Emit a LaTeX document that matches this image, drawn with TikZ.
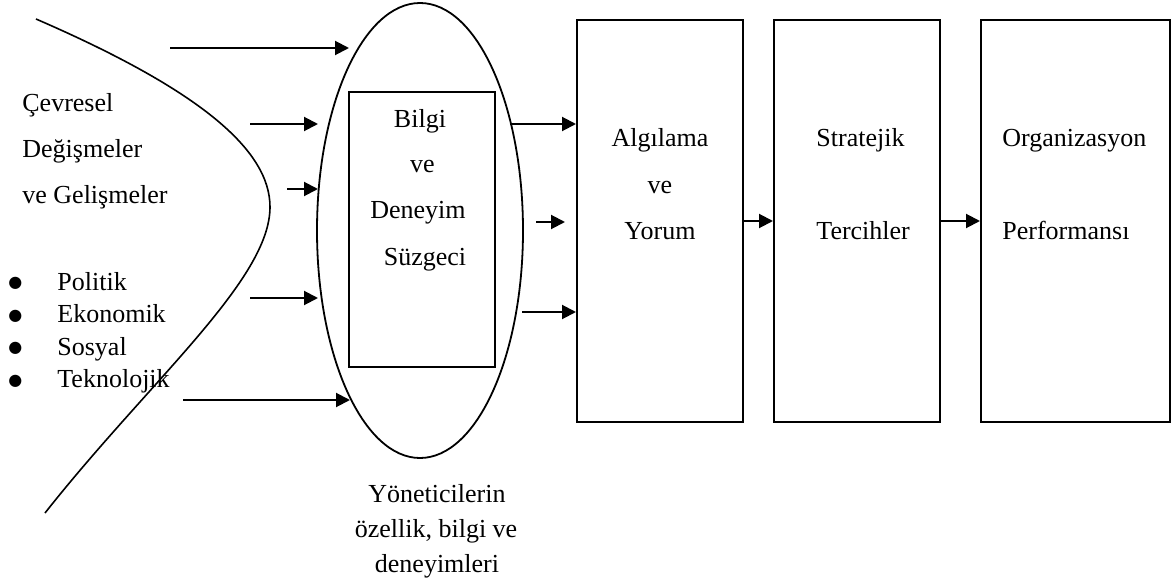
\documentclass[tikz,border=0pt]{standalone}
\usepackage{fontspec}
\setmainfont{Liberation Serif}
\newfontfamily\djvfont{DejaVu Sans}
\usetikzlibrary{shapes.geometric,arrows.meta}
\newcommand{\bigbul}{\makebox[24.5pt][l]{\raisebox{1.2pt}{\djvfont\fontsize{8}{9}\selectfont ●}}}
\begin{document}
\begin{tikzpicture}[x=0.5pt,y=-0.5pt,
  txt/.style={inner sep=0pt,font=\fontsize{13}{15}\selectfont},
  boxnode/.style={draw,line width=1pt,inner sep=0pt},
  arr/.style={line width=1pt,-{Triangle[length=7pt,width=7pt]}},
  curveline/.style={line width=0.8pt}]
\useasboundingbox (0,0) rectangle (1173,583);

% environmental curve
\draw[curveline] (36,19) .. controls (200,90) and (270,150) .. (270,207)
  .. controls (270,280) and (150,380) .. (45,513);

% left texts
\node[txt,anchor=base west] (cev1) at (22,112) {Çevresel};
\node[txt,anchor=base west] (cev2) at (22,158) {Değişmeler};
\node[txt,anchor=base west] (cev3) at (22,204) {ve Gelişmeler};

\node[txt,anchor=base west] (it1) at (8,290) {\bigbul Politik};
\node[txt,anchor=base west] (it2) at (8,322.5) {\bigbul Ekonomik};
\node[txt,anchor=base west] (it3) at (8,355) {\bigbul Sosyal};
\node[txt,anchor=base west] (it4) at (8,387.5) {\bigbul Teknolojik};

% ellipse and filter box
\node[draw,ellipse,line width=0.9pt,minimum width=103pt,minimum height=227.5pt,inner sep=0pt] (ell) at (420,230.5) {};
\node[boxnode,minimum width=73pt,minimum height=137.5pt] (filt) at (422,229.5) {};
\node[txt,anchor=base] (f1) at (420,127) {Bilgi};
\node[txt,anchor=base] (f2) at (422.5,173) {ve};
\node[txt,anchor=base] (f3) at (418,218) {Deneyim};
\node[txt,anchor=base] (f4) at (425,265) {Süzgeci};

\node[txt,anchor=base] (y1) at (437,502) {Yöneticilerin};
\node[txt,anchor=base] (y2) at (436,537) {özellik, bilgi ve};
\node[txt,anchor=base] (y3) at (437,572) {deneyimleri};

% boxes
\node[boxnode,minimum width=83pt,minimum height=201pt] (box1) at (660,221) {};
\node[boxnode,minimum width=83pt,minimum height=201pt] (box2) at (857,221) {};
\node[boxnode,minimum width=94.5pt,minimum height=201pt] (box3) at (1075.5,221) {};

\node[txt,anchor=base] (b1a) at (660,147) {Algılama};
\node[txt,anchor=base] (b1b) at (660,193) {ve};
\node[txt,anchor=base] (b1c) at (660,239) {Yorum};
\node[txt,anchor=base west] (b2a) at (816,147) {Stratejik};
\node[txt,anchor=base west] (b2b) at (816,239) {Tercihler};
\node[txt,anchor=base west] (b3a) at (1002,147) {Organizasyon};
\node[txt,anchor=base west] (b3b) at (1002,239) {Performansı};

% arrow end points
\coordinate (a1t) at (170,48);  \coordinate (a1h) at (349,48);
\coordinate (a2t) at (250,124); \coordinate (a2h) at (318,124);
\coordinate (a3t) at (287,189); \coordinate (a3h) at (318,189);
\coordinate (a4t) at (250,298); \coordinate (a4h) at (318,298);
\coordinate (a5t) at (183,400); \coordinate (a5h) at (350,400);
\coordinate (r1t) at (510,124);
\coordinate (r2t) at (536,222); \coordinate (r2h) at (565,222);
\coordinate (r3t) at (522,312);

\draw[arr] (a1t) -- (a1h);
\draw[arr] (a2t) -- (a2h);
\draw[arr] (a3t) -- (a3h);
\draw[arr] (a4t) -- (a4h);
\draw[arr] (a5t) -- (a5h);
\draw[arr] (r1t) -- (r1t -| box1.west);
\draw[arr] (r2t) -- (r2h);
\draw[arr] (r3t) -- (r3t -| box1.west);
\draw[arr] (box1.east) -- (box2.west);
\draw[arr] (box2.east) -- (box3.west);
\end{tikzpicture}
\end{document}
